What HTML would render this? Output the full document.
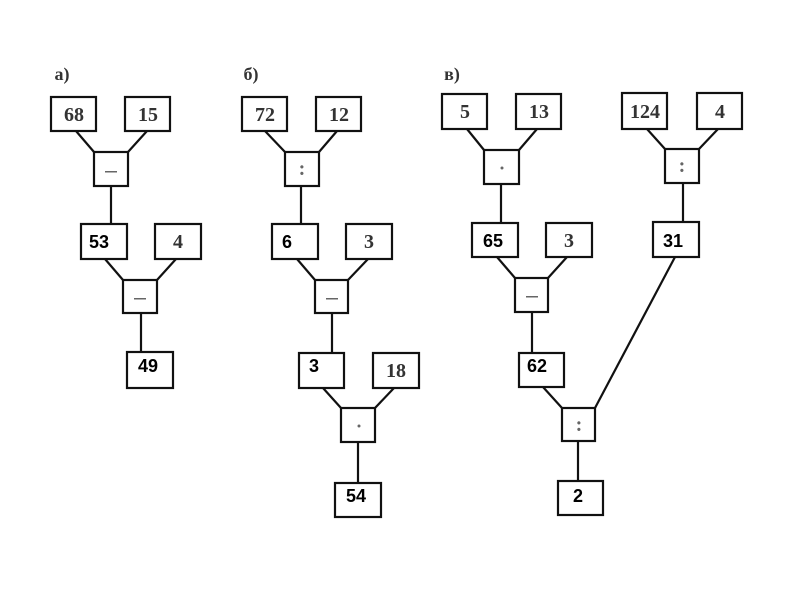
<!DOCTYPE html>
<html><head><meta charset="utf-8"><style>body{margin:0;background:#fff}</style></head><body>
<svg width="800" height="600" xmlns="http://www.w3.org/2000/svg">
<g fill="none" stroke="#111" stroke-width="2.2">
<!-- a -->
<rect x="51" y="97" width="45" height="34"/><rect x="125" y="97" width="45" height="34"/>
<rect x="94" y="152" width="34" height="34"/>
<line x1="76" y1="131" x2="94" y2="152"/><line x1="147" y1="131" x2="128" y2="152"/>
<line x1="111" y1="186" x2="111" y2="224"/>
<rect x="81" y="224" width="46" height="35"/><rect x="155" y="224" width="46" height="35"/>
<rect x="123" y="280" width="34" height="33"/>
<line x1="105" y1="259" x2="123" y2="280"/><line x1="176" y1="259" x2="157" y2="280"/>
<line x1="141" y1="313" x2="141" y2="352"/>
<rect x="127" y="352" width="46" height="36"/>
<!-- b -->
<rect x="242" y="97" width="45" height="34"/><rect x="316" y="97" width="45" height="34"/>
<rect x="285" y="152" width="34" height="34"/>
<line x1="265" y1="131" x2="285" y2="152"/><line x1="337" y1="131" x2="319" y2="152"/>
<line x1="301" y1="186" x2="301" y2="224"/>
<rect x="272" y="224" width="46" height="35"/><rect x="346" y="224" width="46" height="35"/>
<rect x="315" y="280" width="33" height="33"/>
<line x1="297" y1="259" x2="315" y2="280"/><line x1="368" y1="259" x2="348" y2="280"/>
<line x1="332" y1="313" x2="332" y2="353"/>
<rect x="299" y="353" width="45" height="35"/><rect x="373" y="353" width="46" height="35"/>
<rect x="341" y="408" width="34" height="34"/>
<line x1="323" y1="388" x2="341" y2="408"/><line x1="394" y1="388" x2="375" y2="408"/>
<line x1="358" y1="442" x2="358" y2="483"/>
<rect x="335" y="483" width="46" height="34"/>
<!-- c -->
<rect x="442" y="94" width="45" height="35"/><rect x="516" y="94" width="45" height="35"/>
<rect x="484" y="150" width="35" height="34"/>
<line x1="467" y1="129" x2="484" y2="150"/><line x1="537" y1="129" x2="519" y2="150"/>
<line x1="501" y1="184" x2="501" y2="223"/>
<rect x="472" y="223" width="46" height="34"/><rect x="546" y="223" width="46" height="34"/>
<rect x="515" y="278" width="33" height="34"/>
<line x1="497" y1="257" x2="515" y2="278"/><line x1="567" y1="257" x2="548" y2="278"/>
<line x1="532" y1="312" x2="532" y2="353"/>
<rect x="519" y="353" width="45" height="34"/>
<rect x="562" y="408" width="33" height="33"/>
<line x1="543" y1="387" x2="562" y2="408"/>
<line x1="578" y1="441" x2="578" y2="481"/>
<rect x="558" y="481" width="45" height="34"/>
<rect x="622" y="93" width="45" height="36"/><rect x="697" y="93" width="45" height="36"/>
<rect x="665" y="149" width="34" height="34"/>
<line x1="647" y1="129" x2="665" y2="149"/><line x1="718" y1="129" x2="699" y2="149"/>
<line x1="683" y1="183" x2="683" y2="222"/>
<rect x="653" y="222" width="46" height="35"/>
<line x1="675" y1="257" x2="595" y2="408"/>
</g>
<g font-family="Liberation Serif, serif" font-size="20" font-weight="bold" fill="#333" text-anchor="middle">
<text x="62" y="80" font-size="18">а)</text><text x="251" y="80" font-size="18">б)</text><text x="452" y="80" font-size="18">в)</text>
<text x="74" y="121">68</text><text x="148" y="121">15</text><text x="178" y="248">4</text>
<text x="265" y="121">72</text><text x="339" y="121">12</text><text x="369" y="248">3</text><text x="396" y="377">18</text>
<text x="465" y="118">5</text><text x="539" y="118">13</text><text x="569" y="247">3</text>
<text x="645" y="118">124</text><text x="720" y="118">4</text>
</g>
<g font-family="Liberation Sans, sans-serif" font-size="18" font-weight="bold" fill="#000">
<text x="89" y="248">53</text><text x="138" y="372">49</text>
<text x="282" y="248">6</text><text x="309" y="372">3</text><text x="346" y="502">54</text>
<text x="483" y="247">65</text><text x="527" y="372">62</text><text x="663" y="247">31</text><text x="573" y="502">2</text>
</g>
<g fill="#666" font-family="Liberation Serif, serif" font-size="20" font-weight="bold" text-anchor="middle">
<rect x="105" y="171" width="12" height="1.5"/><rect x="134" y="298" width="12" height="1.5"/>
<rect x="326" y="298" width="12" height="1.5"/><rect x="526" y="296" width="12" height="1.5"/>
<text x="302" y="175">:</text><text x="579" y="431">:</text><text x="682" y="172">:</text>
<circle cx="359" cy="426" r="1.5"/><circle cx="502" cy="168" r="1.5"/>
</g>
</svg>
</body></html>
